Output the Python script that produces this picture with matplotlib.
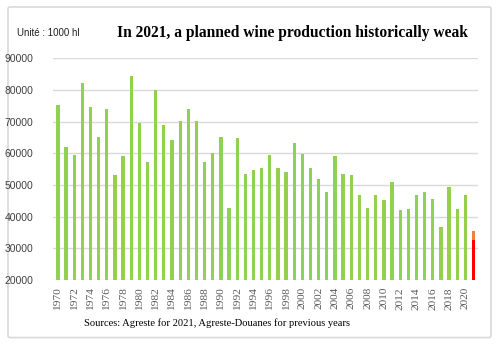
import numpy as np
import matplotlib.pyplot as plt
from matplotlib.patches import FancyBboxPatch

years = list(range(1970, 2021))
production = [75300, 62100, 59500, 82100, 74700, 65100, 74000, 53200, 59000, 84500,
              69700, 57300, 80000, 69000, 64200, 70200, 74000, 70200, 57300, 60200,
              65100, 42700, 64800, 53400, 54700, 55500, 59500, 55200, 54100, 63200,
              59800, 55500, 52000, 47700, 59000, 53400, 53100, 46900, 42600, 46700,
              45200, 50900, 42100, 42400, 46900, 47900, 45500, 36700, 49300, 42400,
              46900]
year_2021 = 2021
low_2021 = 32800
high_2021 = 35600

fig = plt.figure(figsize=(5, 3.48), dpi=100)
frame = FancyBboxPatch((0.016, 0.03), 0.966, 0.95, boxstyle="round,pad=0,rounding_size=0.005",
                       transform=fig.transFigure, facecolor="white", edgecolor="#d9d9d9",
                       lw=1.2, zorder=-10)
fig.patches.append(frame)

ax = fig.add_axes([0.106, 0.195, 0.85, 0.638])
ax.bar(years, np.array(production) - 20000, bottom=20000, width=0.4, color="#92d050", zorder=3)
ax.bar([year_2021], [low_2021 - 20000], bottom=20000, width=0.4, color="#ff0000", zorder=3)
ax.bar([year_2021], [high_2021 - low_2021], bottom=low_2021, width=0.4, color="#f08040", zorder=3)

ax.set_ylim(20000, 90000)
ax.set_xlim(1969.4, 2021.55)
ax.set_yticks(range(20000, 90001, 10000))
ax.set_xticks(range(1970, 2021, 2))
ax.tick_params(axis="x", labelrotation=90, length=0, labelsize=8.2, colors="#595959", pad=5)
ax.tick_params(axis="y", length=0, labelsize=7.5, colors="#404040", pad=14)
for lbl in ax.get_xticklabels():
    lbl.set_family("Liberation Serif")
for lbl in ax.get_yticklabels():
    lbl.set_family("Liberation Sans")
ax.grid(axis="y", color="#d9d9d9", lw=1, zorder=0)
for s in ax.spines.values():
    s.set_visible(False)
ax.set_facecolor("none")

fig.text(0.034, 0.905, "Unité : 1000 hl", family="Liberation Sans", fontsize=7,
         color="#202020", va="center")
fig.text(0.234, 0.905, "In 2021, a planned wine production historically weak",
         family="Liberation Serif", fontweight="bold", fontsize=11.2, va="center")
fig.text(0.168, 0.072, "Sources: Agreste for 2021, Agreste-Douanes for previous years",
         family="Liberation Serif", fontsize=7.6, va="center")

fig.savefig("out.png", dpi=100)
